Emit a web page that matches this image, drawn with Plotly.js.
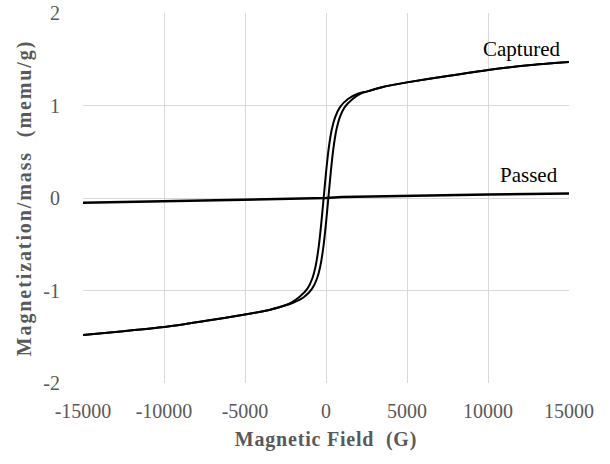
<!DOCTYPE html>
<html>
<head>
<meta charset="utf-8">
<script src="https://cdn.plot.ly/plotly-3.0.1.min.js"></script>
<style>
html,body{margin:0;padding:0;background:#fff;}
.ytitle{letter-spacing:1.9px;}
.xtitle{letter-spacing:0.8px;}
</style>
</head>
<body>
<div id="chart" style="width:610px;height:464px;"></div>
<script>
// Captured sample: hysteresis loop, ascending field branch
const fieldAsc = [-15000, -12500, -10000, -7500, -5000, -3500, -2500, -2000, -1355, -855, -555, -355, -155, -5, 145, 295, 445, 645, 845, 1145, 1645, 2145, 2500, 3500, 5000, 7500, 10000, 12500, 15000];
const capturedAsc = [-1.48, -1.44, -1.395, -1.33, -1.26, -1.21, -1.16, -1.13, -1.07, -0.98, -0.87, -0.74, -0.52, -0.28, 0.00, 0.28, 0.52, 0.74, 0.87, 0.98, 1.07, 1.13, 1.15, 1.20, 1.25, 1.32, 1.385, 1.435, 1.47];
// Captured sample: descending field branch
const fieldDesc = [15000, 12500, 10000, 7500, 5000, 3500, 2500, 2000, 1355, 855, 555, 355, 155, 5, -145, -295, -445, -645, -845, -1145, -1645, -2145, -2500, -3500, -5000, -7500, -10000, -12500, -15000];
const capturedDesc = [1.47, 1.435, 1.385, 1.32, 1.25, 1.20, 1.15, 1.13, 1.07, 0.98, 0.87, 0.74, 0.52, 0.28, 0.00, -0.28, -0.52, -0.74, -0.87, -0.98, -1.07, -1.13, -1.16, -1.21, -1.26, -1.33, -1.395, -1.44, -1.48];
// Passed sample
const fieldPassed = [-15000, -10000, -5000, -1000, 0, 1000, 5000, 10000, 15000];
const passedVals = [-0.052, -0.037, -0.022, -0.008, 0.0, 0.010, 0.024, 0.037, 0.050];

const xTicks = [-15000, -10000, -5000, 0, 5000, 10000, 15000];
const yTicks = [-2, -1, 0, 1, 2];

const lineStyle = {color: '#000000', width: 2, shape: 'spline', smoothing: 0.7};
const traces = [
  {x: fieldAsc, y: capturedAsc, mode: 'lines', line: lineStyle, hoverinfo: 'skip'},
  {x: fieldDesc, y: capturedDesc, mode: 'lines', line: lineStyle, hoverinfo: 'skip'},
  {x: fieldPassed, y: passedVals, mode: 'lines', line: {color: '#000000', width: 2.5}, hoverinfo: 'skip'}
];

const font = 'Liberation Serif';
const layout = {
  width: 610, height: 464,
  margin: {l: 83, r: 41, t: 13, b: 81},
  paper_bgcolor: '#ffffff', plot_bgcolor: '#ffffff',
  showlegend: false,
  font: {family: font, color: '#595959', size: 20},
  xaxis: {
    range: [-15000, 15000], tickvals: xTicks, ticktext: xTicks.map(String),
    showgrid: true, gridcolor: '#d9d9d9', gridwidth: 1, zeroline: false, showline: false,
    ticks: 'outside', ticklen: 10, tickcolor: 'rgba(0,0,0,0)',
    tickfont: {family: font, size: 20, color: '#595959'},
    title: {text: '<b>Magnetic Field  (G)</b>', font: {family: font, size: 20, color: '#595959'}, standoff: 10}
  },
  yaxis: {
    range: [-2, 2], tickvals: yTicks, ticktext: yTicks.map(String),
    showgrid: true, gridcolor: '#d9d9d9', gridwidth: 1, zeroline: false, showline: false,
    ticks: 'outside', ticklen: 18, tickcolor: 'rgba(0,0,0,0)',
    tickfont: {family: font, size: 20, color: '#595959'},
    title: {text: '<b>Magnetization/mass  (memu/g)</b>', font: {family: font, size: 20, color: '#595959'}, standoff: 6}
  },
  annotations: [
    {x: 14550, y: 1.61, xref: 'x', yref: 'y', text: 'Captured', showarrow: false, xanchor: 'right', yanchor: 'middle', font: {family: font, size: 21, color: '#000000'}},
    {x: 14450, y: 0.245, xref: 'x', yref: 'y', text: 'Passed', showarrow: false, xanchor: 'right', yanchor: 'middle', font: {family: font, size: 21, color: '#000000'}}
  ]
};
Plotly.newPlot('chart', traces, layout, {displayModeBar: false, staticPlot: true});
</script>
</body>
</html>
